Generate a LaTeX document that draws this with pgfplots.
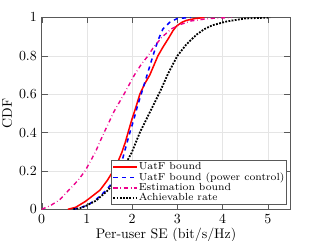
\documentclass[border=0pt]{standalone}
\usepackage{pgfplots}
\pgfplotsset{compat=1.18}
\begin{document}
\begin{tikzpicture}
\begin{axis}[
  at={(0,0)}, anchor=south west,
  scale only axis, width=179pt, height=138pt,
  xmin=0, xmax=5.5, ymin=0, ymax=1,
  xtick={0,1,2,3,4,5}, ytick={0,0.2,0.4,0.6,0.8,1},
  yticklabel style={/pgf/number format/fixed},
  grid=major, major grid style={gray!20},
  axis line style={gray!70!black},
  tick style={gray!70!black},
  tick align=inside,
  xlabel={Per-user SE (bit/s/Hz)}, ylabel={CDF},
  xlabel style={yshift=3pt}, ylabel style={yshift=-2pt},
  legend style={at={(0.985,0.022)}, anchor=south east, font=\fontsize{7.4}{8}\selectfont, draw=gray!70!black, inner sep=0.8pt, row sep=-0.5pt, nodes={inner sep=0.6pt}},
  legend cell align=left,
  legend image code/.code={\draw[mark repeat=2,mark phase=2] plot coordinates {(0pt,0pt) (8.5pt,0pt) (17pt,0pt)};},
]
\addplot[red, line width=1.1pt] coordinates {
(0.58,0) (0.75,0.01) (0.96,0.04) (1.1,0.065) (1.29,0.1) (1.45,0.15) (1.58,0.2) (1.68,0.245) (1.77,0.295) (1.85,0.35) (1.91,0.4) (1.99,0.465) (2.08,0.53) (2.17,0.6) (2.28,0.655) (2.39,0.7) (2.48,0.75) (2.57,0.8) (2.68,0.845) (2.8,0.89) (2.9,0.93) (2.98,0.955) (3.1,0.975) (3.2,0.985) (3.4,0.995) (3.6,1)};
\addlegendentry{UatF bound}
\addplot[blue, dashed, line width=1.1pt] coordinates {
(0.7,0) (0.85,0.008) (1.0,0.02) (1.2,0.05) (1.43,0.1) (1.6,0.15) (1.73,0.21) (1.82,0.29) (1.95,0.4) (2.04,0.47) (2.12,0.54) (2.2,0.6) (2.33,0.7) (2.46,0.8) (2.57,0.88) (2.68,0.94) (2.83,0.975) (3.0,0.995) (3.3,1)};
\addlegendentry{UatF bound (power control)}
\addplot[magenta, dashdotted, line width=1.0pt] coordinates {
(0,0) (0.2,0.02) (0.4,0.05) (0.6,0.1) (0.8,0.15) (0.96,0.2) (1.1,0.26) (1.2,0.305) (1.35,0.385) (1.51,0.465) (1.6,0.51) (1.82,0.6) (2.05,0.7) (2.2,0.755) (2.35,0.8) (2.46,0.84) (2.65,0.895) (2.86,0.94) (3.05,0.962) (3.3,0.982) (3.7,0.995) (4.2,1)};
\addlegendentry{Estimation bound}
\addplot[black, densely dotted, line width=1.3pt] coordinates {
(0.7,0) (0.85,0.006) (1.0,0.02) (1.2,0.045) (1.47,0.1) (1.63,0.15) (1.77,0.2) (1.99,0.295) (2.17,0.4) (2.4,0.51) (2.62,0.615) (2.8,0.71) (3.0,0.8) (3.2,0.86) (3.42,0.91) (3.6,0.94) (3.78,0.96) (4.1,0.98) (4.5,0.995) (5.05,1)};
\addlegendentry{Achievable rate}
\end{axis}
\pgfresetboundingbox
\path (-30pt,-22.8pt) rectangle (201pt,150.6pt);
\end{tikzpicture}
\end{document}
